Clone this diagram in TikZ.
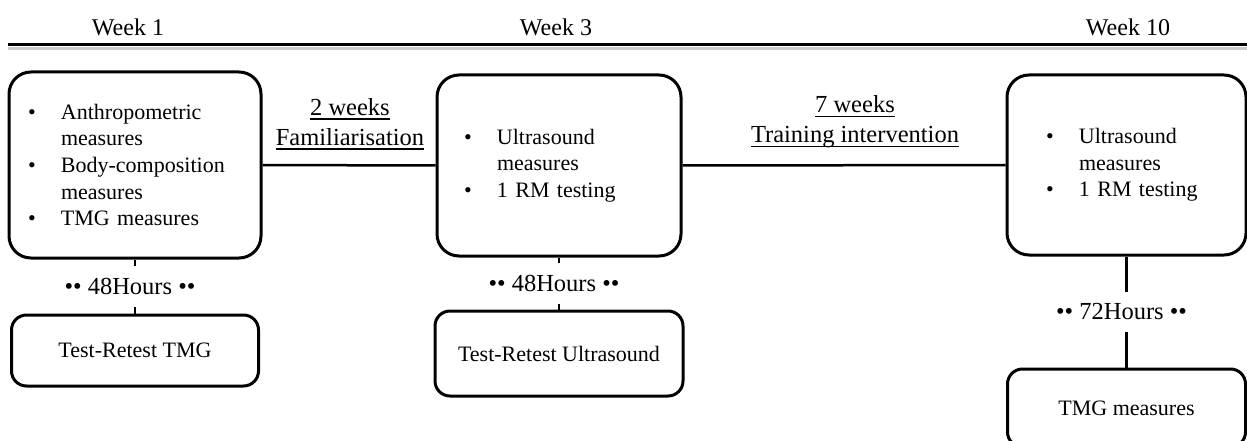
\documentclass[tikz,border=0pt]{standalone}
\usepackage{fontspec}
\setmainfont{Liberation Serif}
\usetikzlibrary{positioning}
\newcommand{\boxfont}{\fontsize{22}{26.7}\selectfont}
\newcommand{\lblfont}{\fontsize{24.5}{30}\selectfont}
\newcommand{\wkfont}{\fontsize{24}{29}\selectfont}
\newcommand{\bul}{\makebox[33pt][l]{•}}
\newcommand{\cont}{\hspace*{33pt}}
\newcommand{\uln}[1]{\setbox0\hbox{#1}\rlap{\rule[-4.5pt]{\wd0}{1.8pt}}#1}
\tikzset{stage/.style={draw, line width=3pt, rounded corners=22pt, align=left, font=\boxfont, inner ysep=0pt}, retest/.style={draw, line width=3pt, rounded corners=15pt, font=\boxfont}, hours/.style={fill=white, font=\lblfont, inner ysep=12pt, inner xsep=4pt, xshift=-5pt}, gap/.style={align=center, font=\lblfont}, week/.style={font=\wkfont}, link/.style={line width=2.5pt}}

\begin{document}
\begin{tikzpicture}[x=1pt, y=-1pt]
    \useasboundingbox (0,0) rectangle (1247,441);
    \clip (0,0) rectangle (1247,441);
    \coordinate (t0) at (8,45);
    \coordinate (t1) at (1247,45);
    \draw[gray!40, line width=3.5pt] ([yshift=-3.5pt]t0) -- ([yshift=-3.5pt]t1);
    \draw[line width=3pt] (t0) -- (t1);
    \node[week] (w1) at (128,27) {Week 1};
    \node[week] (w3) at (556,27) {Week 3};
    \node[week] (w10) at (1128,27) {Week 10};

    \node[stage, text width=214pt, inner xsep=19pt, minimum height=186pt] (wk1) at (135,165) {\bul Anthropometric\\ \cont measures\\ \bul Body-composition\\ \cont measures\\ \bul TMG measures};
    \node[stage, text width=190pt, inner xsep=27pt, minimum height=181pt] (wk3) at (559,165.5) {\bul Ultrasound\\ \cont measures\\ \bul 1 RM testing\\[8pt]};
    \node[stage, text width=161pt, inner xsep=39pt, minimum height=180pt] (wk10) at (1126.5,165) {\bul Ultrasound\\ \cont measures\\ \bul 1 RM testing};

    \node[retest, minimum width=247pt, minimum height=71pt, below=54pt of wk1] (tt1) {Test-Retest TMG};
    \node[retest, minimum width=248pt, minimum height=85pt, below=52pt of wk3] (tt3) {Test-Retest Ultrasound};
    \node[retest, minimum width=238pt, minimum height=78pt, below=111pt of wk10] (tmg) {TMG measures};

    \draw[link] (wk1) -- (wk3);
    \draw[link] (wk3) -- (wk10);
    \node[gap] (fam) at (350,124) {\uln{2 weeks}\\\uln{Familiarisation}};
    \node[gap] (train) at (855,122) {\uln{7 weeks}\\\uln{Training intervention}};

    \draw[link] (wk1.south) -- node[hours] (h1) {•• 48Hours ••} (tt1.north);
    \draw[link] (wk3.south) -- node[hours] (h3) {•• 48Hours ••} (tt3.north);
    \draw[link] (wk10.south) -- node[hours] (h10) {•• 72Hours ••} (tmg.north);
\end{tikzpicture}
\end{document}
